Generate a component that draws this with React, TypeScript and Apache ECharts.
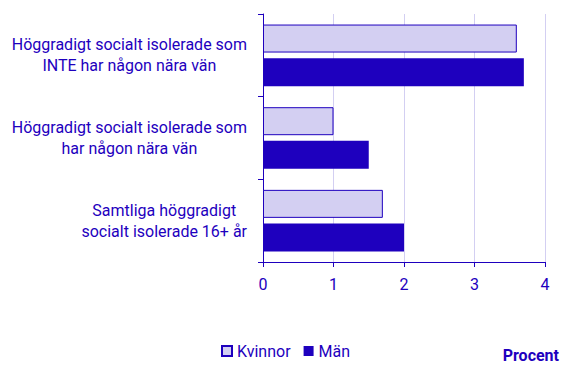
import React, { useEffect, useRef } from "react";
import * as echarts from "echarts";

const categories = [
  "Höggradigt socialt isolerade som\nINTE har någon nära vän",
  "Höggradigt socialt isolerade som\nhar någon nära vän",
  "Samtliga höggradigt\nsocialt isolerade 16+ år",
];
const kvinnor = [3.6, 1.0, 1.7];
const man = [3.7, 1.5, 2.0];
const xTicks = [0, 1, 2, 3, 4];

const DARK = "#1e00be";
const LIGHT = "#d3cff2";

export default function App() {
  const ref = useRef<HTMLDivElement>(null);
  useEffect(() => {
    if (!ref.current) return;
    const chart = echarts.init(ref.current, undefined, { renderer: "svg" });
    chart.setOption({
      animation: false,
      textStyle: { fontFamily: "Roboto", color: DARK, fontSize: 16 },
      grid: { left: 263, right: 20, top: 14, bottom: 111, containLabel: false },
      title: {
        text: "Procent",
        right: 6,
        top: 347,
        padding: 0,
        textStyle: { fontFamily: "Roboto", fontSize: 16, fontWeight: "bold", color: DARK },
      },
      legend: {
        left: 221,
        top: 343,
        padding: 0,
        icon: "rect",
        itemWidth: 10,
        itemHeight: 10,
        itemGap: 13,
        textStyle: { fontFamily: "Roboto", fontSize: 16, color: DARK },
        data: ["Kvinnor", "Män"],
      },
      xAxis: {
        type: "value",
        min: xTicks[0],
        max: xTicks[xTicks.length - 1],
        interval: 1,
        axisLine: { show: true, lineStyle: { color: DARK, width: 1 } },
        axisTick: { show: true, length: 5, lineStyle: { color: DARK } },
        axisLabel: { fontFamily: "Roboto", fontSize: 16, color: DARK, margin: 14 },
        splitLine: { show: true, lineStyle: { color: LIGHT, width: 1 } },
      },
      yAxis: {
        type: "category",
        inverse: true,
        data: categories,
        axisLine: { show: true, lineStyle: { color: DARK, width: 1 } },
        axisTick: { show: true, length: 5, lineStyle: { color: DARK } },
        axisLabel: {
          margin: 16,
          fontFamily: "Roboto",
          fontSize: 16,
          lineHeight: 21,
          color: DARK,
          formatter: (v: string) =>
            v
              .split("\n")
              .map((l) => `{c|${l}}`)
              .join("\n"),
          rich: {
            c: {
              align: "center",
              fontFamily: "Roboto",
              fontSize: 16,
              lineHeight: 21,
              color: DARK,
            },
          },
        },
        splitLine: { show: false },
      },
      series: [
        {
          name: "Kvinnor",
          type: "bar",
          data: kvinnor,
          barWidth: 28,
          barGap: "20%",
          itemStyle: { color: LIGHT, borderColor: DARK, borderWidth: 1 },
        },
        {
          name: "Män",
          type: "bar",
          data: man,
          barWidth: 28,
          barGap: "20%",
          itemStyle: { color: DARK },
        },
      ],
    });
    return () => chart.dispose();
  }, []);
  return <div ref={ref} style={{ width: 565, height: 373, position: "absolute", left: 0, top: 0 }} />;
}
